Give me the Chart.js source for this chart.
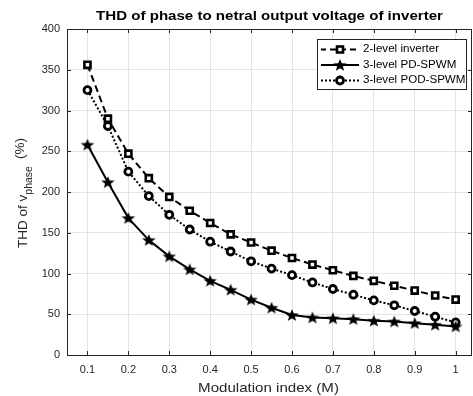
<!DOCTYPE html>
<html>
<head>
<meta charset="utf-8">
<script src="https://cdn.jsdelivr.net/npm/chart.js@4.4.1/dist/chart.umd.min.js"></script>
<style>
  html, body { margin: 0; padding: 0; background: #fff; overflow: hidden; }
  #wrap { width: 473px; height: 396px; position: relative; overflow: hidden; }
  #c { display: block; }
</style>
</head>
<body>
<div id="wrap"><canvas id="c" width="480" height="396"></canvas></div>
<script>
// ---- data ----
const modulationIndex = [0.1, 0.15, 0.2, 0.25, 0.3, 0.35, 0.4, 0.45, 0.5, 0.55, 0.6, 0.65, 0.7, 0.75, 0.8, 0.85, 0.9, 0.95, 1.0];
const twoLevel = [356, 290, 247, 217, 194, 177, 162, 148, 138, 128, 119, 111, 104, 97, 91, 85, 79, 73, 68];
const pdSpwm   = [258, 212, 168, 141, 121, 105, 91, 80, 68, 58, 49, 46, 45, 44, 42, 41, 39, 37, 35];
const podSpwm  = [325, 281, 225, 195, 172, 154, 139, 127, 115, 106, 98, 89, 81, 74, 67, 61, 54, 47, 40];
const xTickValues = [0.1, 0.2, 0.3, 0.4, 0.5, 0.6, 0.7, 0.8, 0.9, 1.0];
const seriesNames = ['2-level inverter', '3-level PD-SPWM', '3-level POD-SPWM'];
const chartTitle = 'THD of phase to netral output voltage of inverter';
const xTitle = 'Modulation index (M)';

const FONT = '"Liberation Sans", Arial, Helvetica, sans-serif';
const AX = '#262626';
const SX = 1.16; // horizontal text stretch seen in the reference

function makeStar(r) {
  const s = Math.ceil(r * 2) + 2;
  const c = document.createElement('canvas');
  c.width = s; c.height = s;
  const g = c.getContext('2d');
  g.beginPath();
  for (let i = 0; i < 10; i++) {
    const a = -Math.PI / 2 + i * Math.PI / 5;
    const rr = (i % 2) ? r * 0.42 : r;
    g.lineTo(s / 2 + rr * Math.cos(a) * 1.08, s / 2 + rr * Math.sin(a) + r * 0.08);
  }
  g.closePath();
  g.fillStyle = '#000';
  g.fill();
  return c;
}
const starImg = makeStar(6.6);

function pts(arr) { return modulationIndex.map((x, i) => ({ x: x, y: arr[i] })); }

function stretchedText(ctx, text, cx, cy, align) {
  ctx.save();
  ctx.translate(cx, cy);
  ctx.scale(SX, 1);
  ctx.textAlign = align;
  ctx.fillText(text, 0, 0);
  ctx.restore();
}

function drawSquare(ctx, x, y) {
  ctx.save();
  ctx.lineWidth = 2.6;
  ctx.strokeStyle = '#000';
  ctx.fillStyle = '#fff';
  ctx.fillRect(x - 3, y - 3, 6, 6);
  ctx.strokeRect(x - 3, y - 3, 6, 6);
  ctx.restore();
}
function drawCircle(ctx, x, y) {
  ctx.save();
  ctx.lineWidth = 2.8;
  ctx.strokeStyle = '#000';
  ctx.fillStyle = '#fff';
  ctx.beginPath();
  ctx.arc(x, y, 3.5, 0, Math.PI * 2);
  ctx.fill(); ctx.stroke();
  ctx.restore();
}

const decor = {
  id: 'decor',
  afterDraw(chart) {
    const ctx = chart.ctx;
    const a = chart.chartArea;
    const xs = chart.scales.x, ys = chart.scales.y;
    ctx.save();
    // box
    ctx.strokeStyle = AX;
    ctx.lineWidth = 1;
    ctx.strokeRect(a.left + 0.5, a.top + 0.5, a.right - a.left - 1, a.bottom - a.top);
    // tick marks inward
    ctx.beginPath();
    xTickValues.forEach(v => {
      const px = Math.round(xs.getPixelForValue(v)) + 0.5;
      ctx.moveTo(px, a.bottom); ctx.lineTo(px, a.bottom - 4);
      ctx.moveTo(px, a.top); ctx.lineTo(px, a.top + 4);
    });
    ys.ticks.forEach(t => {
      const py = Math.round(ys.getPixelForValue(t.value)) + 0.5;
      ctx.moveTo(a.left, py); ctx.lineTo(a.left + 4, py);
      ctx.moveTo(a.right, py); ctx.lineTo(a.right - 4, py);
    });
    ctx.stroke();

    const cx = (a.left + a.right) / 2;
    // chart title
    ctx.fillStyle = '#000';
    ctx.font = 'bold 13px ' + FONT;
    ctx.textBaseline = 'middle';
    stretchedText(ctx, chartTitle, cx, 16, 'center');

    // x title
    ctx.fillStyle = AX;
    ctx.font = '13px ' + FONT;
    stretchedText(ctx, xTitle, cx - 1, 388, 'center');

    // y title (rotated with subscript)
    ctx.save();
    ctx.translate(27, (a.top + a.bottom) / 2 + 1);
    ctx.rotate(-Math.PI / 2);
    ctx.textAlign = 'left';
    ctx.textBaseline = 'alphabetic';
    const p1 = 'THD of v', sub = 'phase', p2 = '(%)';
    ctx.font = '13.5px ' + FONT;
    const w1 = ctx.measureText(p1).width, w3 = ctx.measureText(p2).width;
    ctx.font = '10.5px ' + FONT;
    const w2 = ctx.measureText(sub).width;
    const gap = 7;
    let x0 = -(w1 + w2 + gap + w3) / 2;
    ctx.font = '13.5px ' + FONT;
    ctx.fillText(p1, x0, 0);
    ctx.font = '10.5px ' + FONT;
    ctx.fillText(sub, x0 + w1, 5);
    ctx.font = '13.5px ' + FONT;
    ctx.fillText(p2, x0 + w1 + w2 + gap, -3);
    ctx.restore();

    // legend
    const bx = 317, by = 39, bw = 149, bh = 50;
    ctx.fillStyle = '#fff';
    ctx.fillRect(bx, by, bw, bh);
    ctx.strokeStyle = AX;
    ctx.lineWidth = 1;
    ctx.strokeRect(bx + 0.5, by + 0.5, bw, bh);
    const rows = [49.5, 65, 80.5];
    const dashes = [[6, 4], [], [2, 2]];
    rows.forEach((ry, i) => {
      ctx.save();
      ctx.strokeStyle = '#000';
      ctx.lineWidth = 2;
      ctx.setLineDash(dashes[i]);
      ctx.lineDashOffset = i === 0 ? 1 : 0;
      ctx.beginPath();
      ctx.moveTo(321, ry); ctx.lineTo(359, ry);
      ctx.stroke();
      ctx.restore();
      if (i === 0) drawSquare(ctx, 340, ry);
      else if (i === 1) ctx.drawImage(starImg, 340 - starImg.width / 2, ry - starImg.height / 2);
      else drawCircle(ctx, 340, ry);
      ctx.fillStyle = '#000';
      ctx.font = '10px ' + FONT;
      ctx.textBaseline = 'middle';
      stretchedText(ctx, seriesNames[i], 363, ry, 'left');
    });
    ctx.restore();
  }
};

new Chart(document.getElementById('c'), {
  type: 'line',
  data: {
    datasets: [
      {
        label: seriesNames[0], data: pts(twoLevel),
        borderColor: '#000', borderWidth: 2, borderDash: [7, 4],
        pointStyle: 'rect', pointRadius: 4.3, pointBorderWidth: 2.6,
        pointBackgroundColor: '#fff', pointBorderColor: '#000', tension: 0, clip: false
      },
      {
        label: seriesNames[1], data: pts(pdSpwm),
        borderColor: '#000', borderWidth: 2,
        pointStyle: starImg, pointRadius: 6,
        pointBackgroundColor: '#000', pointBorderColor: '#000', tension: 0, clip: false
      },
      {
        label: seriesNames[2], data: pts(podSpwm),
        borderColor: '#000', borderWidth: 2, borderDash: [2, 2],
        pointStyle: 'circle', pointRadius: 3.5, pointBorderWidth: 2.8,
        pointBackgroundColor: '#fff', pointBorderColor: '#000', tension: 0, clip: false
      }
    ]
  },
  options: {
    responsive: false,
    animation: false,
    devicePixelRatio: 1,
    layout: { padding: { top: 29, right: 1, left: 0, bottom: 0 } },
    plugins: { legend: { display: false }, title: { display: false }, tooltip: { enabled: false } },
    scales: {
      x: {
        type: 'linear', min: 0.05, max: 1.04,
        afterBuildTicks: s => { s.ticks = xTickValues.map(v => ({ value: v })); },
        afterFit: s => { s.height = 41; s.paddingLeft = 0; s.paddingRight = 0; },
        ticks: { color: AX, font: { family: FONT, size: 11 }, padding: 8,
                 callback: v => String(Math.round(v * 10) / 10), maxRotation: 0, autoSkip: false },
        grid: { color: '#e3e3e3', drawTicks: false },
        border: { display: false }
      },
      y: {
        min: 0, max: 400,
        afterFit: s => { s.width = 67; s.paddingTop = 0; s.paddingBottom = 0; },
        ticks: { stepSize: 50, color: AX, font: { family: FONT, size: 11 }, padding: 7 },
        grid: { color: '#e3e3e3', drawTicks: false },
        border: { display: false }
      }
    }
  },
  plugins: [decor]
});
</script>
</body>
</html>
